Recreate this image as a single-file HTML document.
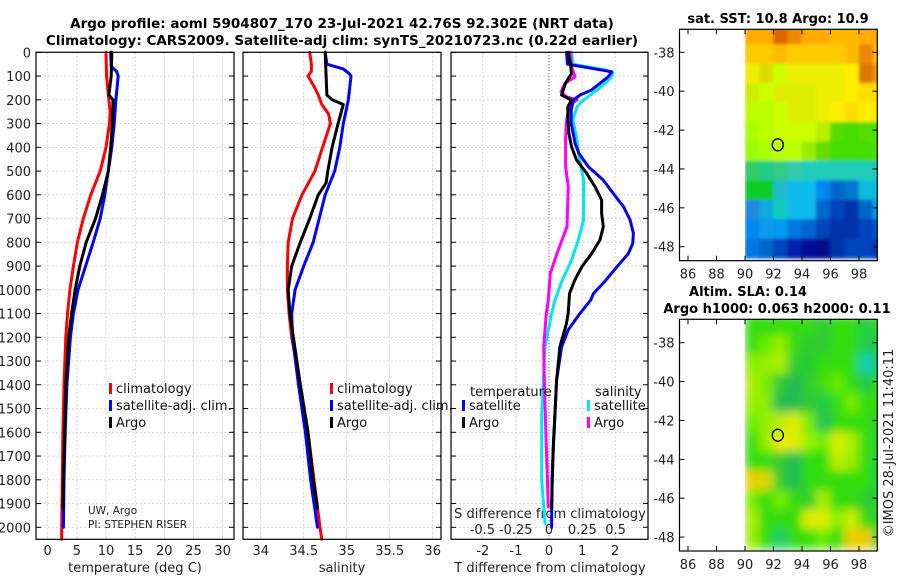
<!DOCTYPE html>
<html><head><meta charset="utf-8">
<style>
html,body{margin:0;padding:0;background:#fff;}
svg{display:block;font-family:"DejaVu Sans","Liberation Sans",sans-serif;}
</style></head>
<body>
<svg id="chart" width="900" height="580" viewBox="0 0 900 580" xmlns="http://www.w3.org/2000/svg">
<text x="342" y="28" text-anchor="middle" font-size="13.5" font-weight="bold">Argo profile: aoml 5904807_170 23-Jul-2021 42.76S 92.302E (NRT data)</text>
<text x="342" y="45" text-anchor="middle" font-size="13.5" font-weight="bold">Climatology: CARS2009. Satellite-adj clim: synTS_20210723.nc (0.22d earlier)</text>
<g id="g"></g>
</svg>
<script>
// ---------- data ----------
const depthTicks = [0,100,200,300,400,500,600,700,800,900,1000,1100,1200,1300,1400,1500,1600,1700,1800,1900,2000];
const tempTicks = [0,5,10,15,20,25,30];
const salTicks = [34,34.5,35,35.5,36];
const tdiffTicks = [-2,-1,0,1,2];
const sdiffTicks = [-0.5,-0.25,0,0.25,0.5];
const sdiffTickLabels = ["-0.5","-0.25","0","0.25","0.5"];

const tClimD = [0,100,200,250,300,400,500,600,700,800,900,1000,1100,1200,1400,1600,1800,2000,2050];
const tClimV = [10.0,10.1,10.5,10.7,10.6,10.0,9.0,7.4,6.1,5.1,4.4,3.8,3.4,3.1,2.8,2.6,2.5,2.4,2.4];
const tArgoD = [0,100,180,200,300,400,500,600,700,800,900,1000,1100,1200,1400,1600,1800,1920];
const tArgoV = [11.0,10.9,10.5,11.2,11.1,10.8,10.4,9.4,8.2,6.6,5.5,4.7,4.1,3.6,3.1,2.9,2.7,2.6];
const tSatD = [0,60,80,100,200,300,400,500,600,700,800,900,1000,1100,1200,1400,1600,1800,2000];
const tSatV = [10.8,10.9,11.8,12.1,11.7,11.4,11.0,10.4,9.8,9.0,7.8,6.5,5.2,4.4,3.9,3.3,3.0,2.8,2.7];

const sClimD = [0,50,80,100,150,180,220,260,300,400,500,600,700,800,900,1000,1100,1200,1400,1600,1800,2000,2050];
const sClimV = [34.57,34.59,34.59,34.55,34.63,34.67,34.71,34.79,34.81,34.72,34.63,34.48,34.37,34.32,34.31,34.31,34.33,34.36,34.46,34.55,34.62,34.69,34.71];
const sArgoD = [0,100,180,200,220,300,400,500,550,600,700,800,900,1000,1100,1200,1400,1600,1800,1920];
const sArgoV = [34.75,34.76,34.77,34.83,34.96,34.90,34.83,34.78,34.76,34.67,34.57,34.46,34.36,34.32,34.34,34.38,34.46,34.55,34.61,34.66];
const sSatD = [0,50,70,90,100,200,300,400,500,600,700,800,900,1000,1100,1200,1400,1600,1800,2000];
const sSatV = [34.75,34.77,34.96,35.03,35.05,35.02,34.96,34.92,34.86,34.75,34.68,34.61,34.50,34.40,34.36,34.37,34.44,34.52,34.58,34.66];

const dTSatD = [0,50,82,103,159,180,201,243,299,383,425,482,538,594,650,706,762,805,847,903,959,1016,1043,1099,1169,1240,1380,1520,1661,1801,2000];
const dTSatV = [0.53,0.56,1.9,1.79,1.28,0.94,0.74,0.67,0.67,0.79,0.9,1.19,1.64,1.94,2.25,2.45,2.55,2.53,2.40,2.05,1.72,1.34,1.26,0.94,0.58,0.38,0.23,0.18,0.13,0.09,0.08];
const dTArgoD = [0,50,90,130,180,201,229,285,341,397,453,510,566,622,678,734,790,847,903,959,1016,1099,1141,1240,1380,1520,1661,1801,1920];
const dTArgoV = [0.58,0.65,0.68,0.5,0.38,0.68,0.57,0.57,0.6,0.68,0.83,1.14,1.39,1.59,1.59,1.64,1.54,1.29,0.99,0.78,0.62,0.58,0.53,0.33,0.23,0.18,0.13,0.1,0.08];
const dSSatD = [0,50,75,89,117,159,201,229,285,369,453,538,622,706,790,875,959,1043,1099,1240,1520,1801,1984];
const dSSatV = [0.17,0.18,0.43,0.48,0.45,0.36,0.26,0.21,0.18,0.21,0.23,0.26,0.26,0.26,0.22,0.17,0.10,0.045,0.02,-0.03,-0.055,-0.055,-0.03];
const dSArgoD = [0,61,103,131,166,187,201,215,243,299,369,482,566,650,734,847,931,1043,1099,1240,1380,1661,1913];
const dSArgoV = [0.16,0.17,0.195,0.12,0.09,0.13,0.21,0.17,0.145,0.13,0.125,0.125,0.145,0.14,0.135,0.06,0.01,-0.005,-0.02,-0.04,-0.035,-0.02,-0.005];

const mapLonTicks = [86,88,90,92,94,96,98];
const sstLatTicks = [-38,-40,-42,-44,-46,-48];
const argoLon = 92.302, argoLat = -42.76;
const sstRows = [
"fa0 fa0 d60 e80 fa0 fa0 fb0 fb0 fa0 fa0",
"fc0 fc0 fb0 fc0 fc0 fc0 fc0 fb0 e80 fb0",
"ee0 dd0 cf0 ee0 ee0 ee0 ee0 fe0 d70 e90",
"ce0 cf0 de0 de0 de0 ee0 ee0 fe0 fd0 fd0",
"bf0 bf0 cf0 de0 de0 ee0 fe0 fd0 fe0 ee0",
"af0 bf0 cf0 cf0 cf0 be0 5d0 4d0 5d0 5d0",
"9f0 af0 bf0 bf0 9e0 6d0 4d0 4d0 4d0 5d0",
"3c6 2c8 3c8 3ca 2cb 2cb 2cb 2cb 2cb 2ca",
"1c2 1c2 2bc 1be 1be 08e 06c 07c 1bd 1bd",
"28d 1ad 1cb 1be 1be 06c 04b 03a 06c 19d",
"08e 19e 09e 07d 06c 04b 03a 03a 04b 05c",
"07d 06c 04b 02a 019 018 03a 04b 04b 03b"];
const slaRows = [
"3d1 3d1 3d1 3d1 3d1 3c3 3d1 3d1 2c4 3d1",
"3d1 6e0 9e0 3d1 3c3 3c3 3d1 3d1 2c5 2c4",
"8e0 9e0 ae0 3c3 2c3 3d1 3d1 3d1 1cb 2c5",
"ae0 7e0 3c3 2b5 3c3 4d1 6e0 3d1 2c4 3d1",
"9e0 8e0 2b5 2b5 3c3 2c4 3d1 7e0 3d1 3d1",
"6e0 9e0 be0 de0 7e0 2b5 3d1 3d1 3d1 3c3",
"3d1 9e0 ee0 de0 9e0 6e0 de0 ae0 3d1 3c3",
"3d1 3d1 3c3 2b5 3d1 3d1 be0 9e0 3d1 2c4",
"ec0 dd0 3c3 2b5 3d1 3d1 3d1 3d1 3d1 2c4",
"7e0 3d1 7e0 3d1 3c3 ae0 3d1 3d1 3c3 2c4",
"ae0 3d1 3d1 3d1 de0 de0 8e0 ce0 3d1 3c3",
"9e0 3d1 2c6 3d1 3d1 6e0 3d1 ec0 ec0 2c4"];

// ---------- helpers ----------
const NS="http://www.w3.org/2000/svg";
const G=document.getElementById('g');
function mk(tag,attrs,parent,text){const e=document.createElementNS(NS,tag);for(const k in attrs)e.setAttribute(k,attrs[k]);if(text!==undefined)e.textContent=text;(parent||G).appendChild(e);return e;}
const Y0=52.3, DY=0.2375, YB=539.3;
const yD = d => Y0 + d*DY;
const xT = v => 47.7 + v*5.83;
const xS = v => 260.7 + (v-34)*86;
const xDT = v => 549 + v*33.1;
const xDS = v => 549 + v*133.2;
const panels=[{x0:36,x1:234,name:'temperature-panel'},{x0:243,x1:441,name:'salinity-panel'},{x0:451,x1:648,name:'difference-panel'}];

function grid(p,xs,xf){
  depthTicks.forEach(d=>{const l=mk('line',{x1:p.x0,x2:p.x1,y1:yD(d),y2:yD(d),stroke:'#bcc0e4','stroke-width':0.7,'stroke-dasharray':'2,2'});
    
    [p.x0,p.x1].forEach((x,i)=>{const t=mk('line',{x1:x,x2:x+(i?-5:5),y1:yD(d),y2:yD(d),stroke:'#000','stroke-width':1});});
  });
  xs.forEach(v=>{const x=xf(v);const l=mk('line',{x1:x,x2:x,y1:Y0,y2:YB,stroke:'#bcc0e4','stroke-width':0.7,'stroke-dasharray':'2,2'});
    });
}
function frame(p){const r=mk('rect',{x:p.x0,y:Y0,width:p.x1-p.x0,height:YB-Y0,fill:'none',stroke:'#000','stroke-width':1.2});
  }
function series(D,V,xf,color,name,w){
  const pts=D.map((d,i)=>xf(V[i]).toFixed(1)+','+yD(d).toFixed(1)).join(' ');
  const l=mk('polyline',{points:pts,fill:'none',stroke:color,'stroke-width':w||3,'stroke-linejoin':'round','stroke-linecap':'round'});
  
}
function txt(x,y,s,opts,name){const t=mk('text',Object.assign({x:x,y:y,'font-size':13,fill:'#222'},opts||{}),G,s);return t;}

grid(panels[0],tempTicks,xT);
grid(panels[1],salTicks,xS);
grid(panels[2],tdiffTicks.filter(v=>v!==0),xDT);
const zl=mk('line',{x1:549,x2:549,y1:Y0,y2:YB,stroke:'#555','stroke-width':1,'stroke-dasharray':'1,2'});


depthTicks.forEach(d=>txt(31,yD(d)+5,String(d),{'text-anchor':'end'},'depth-tick-label'));
tempTicks.forEach(v=>txt(xT(v),555,String(v),{'text-anchor':'middle'},'temperature-tick-label'));
salTicks.forEach(v=>txt(xS(v),555,String(v),{'text-anchor':'middle'},'salinity-tick-label'));
tdiffTicks.forEach(v=>txt(xDT(v),555,String(v),{'text-anchor':'middle'},'t-difference-tick-label'));
sdiffTicks.forEach((v,i)=>txt(xDS(v),534,sdiffTickLabels[i],{'text-anchor':'middle'},'s-difference-tick-label'));
txt(135,572,'temperature (deg C)',{'text-anchor':'middle'},'temperature-axis-title');
txt(342,572,'salinity',{'text-anchor':'middle'},'salinity-axis-title');
txt(550,572,'T difference from climatology',{'text-anchor':'middle'},'t-difference-axis-title');
txt(550,518,'S difference from climatology',{'text-anchor':'middle'},'s-difference-axis-title');
txt(88,514,'UW, Argo',{'font-size':10.5},'institution-label');
txt(88,528,'PI: STEPHEN RISER',{'font-size':10.5},'pi-label');

series(tClimD,tClimV,xT,'#ff0000','temperature-climatology-line');
series(tSatD,tSatV,xT,'#0000ff','temperature-satellite-line');
series(tArgoD,tArgoV,xT,'#000000','temperature-argo-line');
series(sClimD,sClimV,xS,'#ff0000','salinity-climatology-line');
series(sSatD,sSatV,xS,'#0000ff','salinity-satellite-line');
series(sArgoD,sArgoV,xS,'#000000','salinity-argo-line');
series(dSSatD,dSSatV,xDS,'#00e5ee','s-diff-satellite-line');
series(dSArgoD,dSArgoV,xDS,'#ff00ff','s-diff-argo-line');
series(dTSatD,dTSatV,xDT,'#0000ee','t-diff-satellite-line');
series(dTArgoD,dTArgoV,xDT,'#000000','t-diff-argo-line');

panels.forEach(frame);

function leg(x,y,color,label,name){const m=mk('rect',{x:x,y:y-8,width:3,height:11,fill:color});
  txt(x+7,y+2,label,{'font-size':13,fill:'#111'},name);}
leg(109,391,'#ff0000','climatology','legend-t-climatology');
leg(109,408,'#0000ff','satellite-adj. clim.','legend-t-satellite');
leg(109,425,'#000000','Argo','legend-t-argo');
leg(330,391,'#ff0000','climatology','legend-s-climatology');
leg(330,408,'#0000ff','satellite-adj. clim.','legend-s-satellite');
leg(330,425,'#000000','Argo','legend-s-argo');
txt(470,396,'temperature',{'font-size':13,fill:'#111'},'legend-temperature-header');
txt(595,396,'salinity',{'font-size':13,fill:'#111'},'legend-salinity-header');
leg(462,408,'#0000ff','satellite','legend-dt-satellite');
leg(462,425,'#000000','Argo','legend-dt-argo');
leg(587,408,'#00e5ee','satellite','legend-ds-satellite');
leg(587,425,'#ff00ff','Argo','legend-ds-argo');

const MX0=679.5, MX1=877.3, LON0=86, PXLON=14.25;
const mlon = v => 688 + (v-LON0)*PXLON;
function drawMap(top,bottom,latRef,rows,name,blur){
  const mlat = v => latRef + (-38 - v)*19.44;
  const cid='clip-'+name;
  const defs=mk('defs',{});
  const cp=mk('clipPath',{id:cid},defs);
  mk('rect',{x:mlon(90),y:top,width:MX1-mlon(90),height:bottom-top},cp);
  if(blur){const f=mk('filter',{id:'blur-'+name,x:'-10%',y:'-10%',width:'120%',height:'120%'},defs);mk('feGaussianBlur',{stdDeviation:blur},f);}
  const g=mk('g',{'clip-path':'url(#'+cid+')'});
  
  const inner=mk('g',blur?{filter:'url(#blur-'+name+')'}:{},g);
  const lat0=-36.6;
  rows.forEach((r,ri)=>{r.split(' ').forEach((c,ci)=>{
    const x=mlon(90+ci), y=mlat(lat0-ri);
    const cell=mk('rect',{x:x-0.3,y:y-0.3,width:PXLON+0.6,height:19.44+0.6,fill:'#'+c},inner);
    
  });});
  const fr=mk('rect',{x:MX0,y:top,width:MX1-MX0,height:bottom-top,fill:'none',stroke:'#000','stroke-width':1.2});
  
  sstLatTicks.forEach(v=>{const y=mlat(v);
    [MX0,MX1].forEach((x,i)=>{const t=mk('line',{x1:x,x2:x+(i?-5:5),y1:y,y2:y,stroke:'#000'});});
    txt(MX0-5,y+5,String(v),{'text-anchor':'end'},name+'-lat-label');});
  mapLonTicks.forEach(v=>{const x=mlon(v);
    [top,bottom].forEach((y,i)=>{const t=mk('line',{x1:x,x2:x,y1:y,y2:y+(i?-5:5),stroke:'#000'});});
    txt(x,bottom+18,String(v),{'text-anchor':'middle'},name+'-lon-label');});
  const c=mk('ellipse',{cx:mlon(argoLon),cy:mlat(argoLat),rx:5.5,ry:6,fill:'none',stroke:'#000','stroke-width':1.3});
  
}
drawMap(29.3,260.7,52.3,sstRows,'sst-map',1.5);
drawMap(319.3,551,342.7,slaRows,'sla-map',5);
txt(778,23,'sat. SST: 10.8 Argo: 10.9',{'text-anchor':'middle','font-weight':'bold','font-size':13,fill:'#000'},'sst-map-title');
txt(748,296,'Altim. SLA: 0.14',{'text-anchor':'middle','font-weight':'bold','font-size':13,fill:'#000'},'sla-map-title');
txt(777,313,'Argo h1000: 0.063 h2000: 0.11',{'text-anchor':'middle','font-weight':'bold','font-size':13,fill:'#000'},'argo-height-title');
txt(0,0,'\u00A9IMOS 28-Jul-2021 11:40:11',{'text-anchor':'middle','transform':'translate(893,443) rotate(-90)'},'imos-credit');
</script>
</body></html>
